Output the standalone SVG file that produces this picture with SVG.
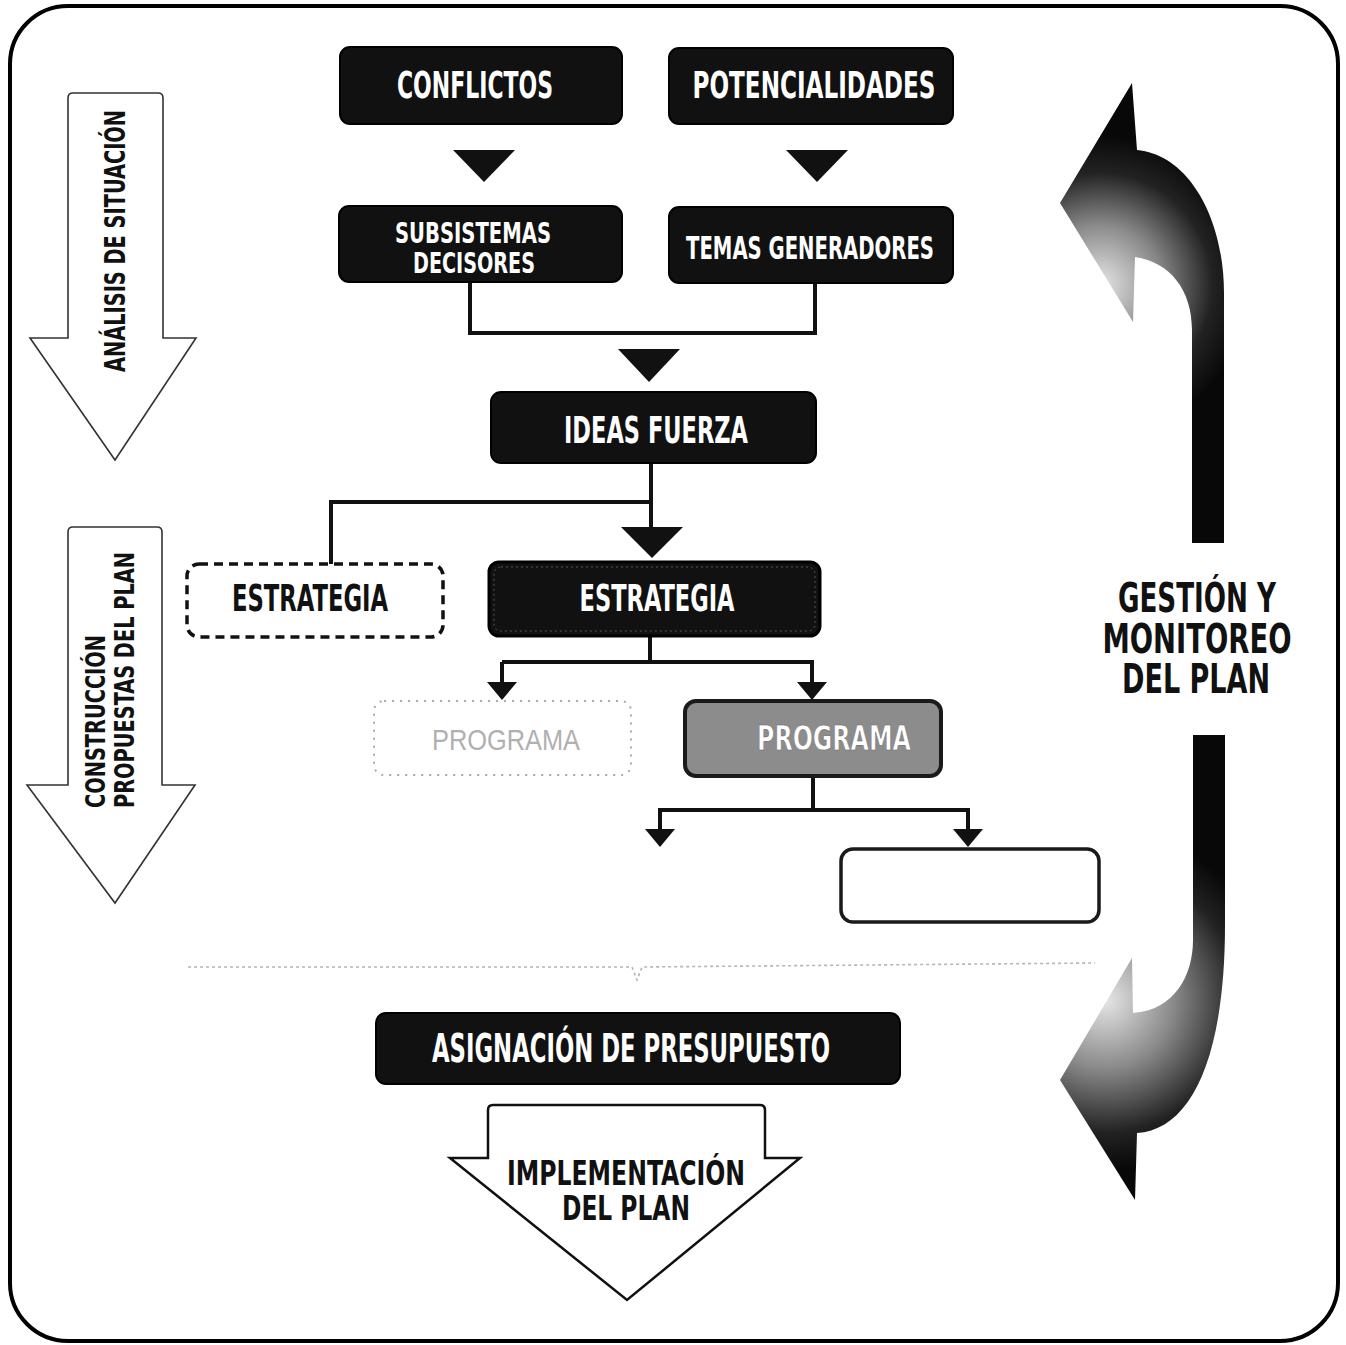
<svg xmlns="http://www.w3.org/2000/svg" width="1346" height="1345" viewBox="0 0 1346 1345">
  <style>
    .t { font-family: "Liberation Sans Narrow","DejaVu Sans Condensed","Liberation Sans",sans-serif; font-weight: bold; }
    .w { fill: #ffffff; }
    .k { fill: #111111; }
    .dark { fill: #111111; stroke: #000; stroke-width: 2; }
    .conn { fill: none; stroke: #111; stroke-width: 4; }
    .tri { fill: #111; }
    .bigarrow { fill: #fff; stroke: #333; stroke-width: 1.6; }
  </style>
  <defs>
    <radialGradient id="gUp" gradientUnits="userSpaceOnUse" cx="1100" cy="285" r="150">
      <stop offset="0" stop-color="#e6e6e6"/>
      <stop offset="0.4" stop-color="#8a8a8a"/>
      <stop offset="0.75" stop-color="#222"/>
      <stop offset="1" stop-color="#080808"/>
    </radialGradient>
    <radialGradient id="gDn" gradientUnits="userSpaceOnUse" cx="1105" cy="1000" r="170">
      <stop offset="0" stop-color="#e6e6e6"/>
      <stop offset="0.4" stop-color="#8a8a8a"/>
      <stop offset="0.78" stop-color="#222"/>
      <stop offset="1" stop-color="#080808"/>
    </radialGradient>
  </defs>

  <rect width="1346" height="1345" fill="#fff"/>
  <!-- outer frame -->
  <rect x="10" y="6" width="1328" height="1335" rx="58" ry="58" fill="none" stroke="#000" stroke-width="4"/>

  <!-- left side big arrows -->
  <g id="analisis">
    <path class="bigarrow" d="M68 98 Q68 93 73 93 L158 93 Q163 93 163 98 L163 338 L196 338 L115 460 L30 338 L68 338 Z"/>
    <text class="t k" font-size="29" transform="translate(125,372) rotate(-90)" textLength="262" lengthAdjust="spacingAndGlyphs">ANÁLISIS DE SITUACIÓN</text>
  </g>
  <g id="construccion">
    <path class="bigarrow" d="M68 532 Q68 527 73 527 L157 527 Q162 527 162 532 L162 785 L195 785 L115 903 L27 785 L68 785 Z"/>
    <text class="t k" font-size="26" transform="translate(105,808) rotate(-90)" textLength="173" lengthAdjust="spacingAndGlyphs">CONSTRUCCIÓN</text>
    <text class="t k" font-size="26" transform="translate(134,808) rotate(-90)" textLength="256" lengthAdjust="spacingAndGlyphs">PROPUESTAS DEL PLAN</text>
  </g>

  <!-- connectors -->
  <g id="connectors">
    <polygon class="tri" points="453,150 515,150 484,182"/>
    <polygon class="tri" points="786,150 848,150 817,182"/>
    <path class="conn" d="M470 282 L470 333 L815 333 L815 283"/>
    <polygon class="tri" points="618,349 680,349 649,382"/>
    <path class="conn" d="M651 463 L651 530"/>
    <path class="conn" d="M651 502 L331 502 L331 565"/>
    <polygon class="tri" points="621,527 683,527 652,558"/>
    <path class="conn" d="M650 636 L650 662"/>
    <path class="conn" d="M502 662 L812 662 L812 682"/>
    <path class="conn" d="M502 662 L502 682"/>
    <polygon class="tri" points="487,682 517,682 502,700"/>
    <polygon class="tri" points="797,682 827,682 812,700"/>
    <path class="conn" d="M813 776 L813 810"/>
    <path class="conn" d="M660 829 L660 810 L968 810 L968 829"/>
    <polygon class="tri" points="645,829 675,829 660,847"/>
    <polygon class="tri" points="953,829 983,829 968,847"/>
  </g>

  <g id="conflictos">
    <rect class="dark" x="340" y="47" width="282" height="77" rx="10"/>
    <text class="t w" font-size="37" x="475" y="98" text-anchor="middle" textLength="156" lengthAdjust="spacingAndGlyphs">CONFLICTOS</text>
  </g>
  <g id="potencialidades">
    <rect class="dark" x="669" y="48" width="284" height="76" rx="10"/>
    <text class="t w" font-size="37" x="814" y="98" text-anchor="middle" textLength="243" lengthAdjust="spacingAndGlyphs">POTENCIALIDADES</text>
  </g>
  <g id="subsistemas">
    <rect class="dark" x="339" y="206" width="283" height="76" rx="10"/>
    <text class="t w" font-size="28" x="473" y="243" text-anchor="middle" textLength="156" lengthAdjust="spacingAndGlyphs">SUBSISTEMAS</text>
    <text class="t w" font-size="28" x="474" y="273" text-anchor="middle" textLength="122" lengthAdjust="spacingAndGlyphs">DECISORES</text>
  </g>
  <g id="temas">
    <rect class="dark" x="669" y="207" width="284" height="76" rx="10"/>
    <text class="t w" font-size="32" x="810" y="259" text-anchor="middle" textLength="248" lengthAdjust="spacingAndGlyphs">TEMAS GENERADORES</text>
  </g>
  <g id="ideas">
    <rect class="dark" x="491" y="392" width="325" height="71" rx="10"/>
    <text class="t w" font-size="37" x="656" y="443" text-anchor="middle" textLength="184" lengthAdjust="spacingAndGlyphs">IDEAS FUERZA</text>
  </g>
  <g id="estrategia-alt">
    <rect x="187" y="564" width="256" height="73" rx="12" fill="#fff" stroke="#111" stroke-width="3.5" stroke-dasharray="9 6"/>
    <text class="t k" font-size="37" x="310" y="611" text-anchor="middle" textLength="156" lengthAdjust="spacingAndGlyphs">ESTRATEGIA</text>
  </g>
  <g id="estrategia">
    <rect x="489" y="562" width="331" height="74" rx="10" fill="#111" stroke="#000" stroke-width="3"/>
    <rect x="494" y="567" width="321" height="64" rx="7" fill="none" stroke="#555" stroke-width="1" stroke-dasharray="2 3"/>
    <text class="t w" font-size="37" x="657" y="611" text-anchor="middle" textLength="155" lengthAdjust="spacingAndGlyphs">ESTRATEGIA</text>
  </g>
  <g id="programa-alt">
    <rect x="374" y="701" width="257" height="74" rx="10" fill="#fff" stroke="#aaa" stroke-width="2" stroke-dasharray="2 6"/>
    <text font-family="'Liberation Sans','DejaVu Sans',sans-serif" font-size="29" fill="#b0b0b0" x="506" y="750" text-anchor="middle" textLength="148" lengthAdjust="spacingAndGlyphs">PROGRAMA</text>
  </g>
  <g id="programa">
    <rect x="685" y="701" width="256" height="75" rx="11" fill="#8c8c8c" stroke="#1a1a1a" stroke-width="4"/>
    <text class="t w" font-size="33" x="834" y="750" text-anchor="middle" textLength="154" lengthAdjust="spacingAndGlyphs" stroke="#666" stroke-width="0.6">PROGRAMA</text>
  </g>
  <g id="empty-box">
    <rect x="841" y="849" width="258" height="73" rx="12" fill="#fff" stroke="#1a1a1a" stroke-width="3.5"/>
  </g>

  <!-- faint divider -->
  <g id="divider">
    <path d="M188 967 L632 967 L637 980 L642 967 L1095 963" fill="none" stroke="#b5b5b5" stroke-width="1.6" stroke-dasharray="3 3"/>
  </g>

  <g id="asignacion">
    <rect class="dark" x="376" y="1013" width="524" height="71" rx="10"/>
    <text class="t w" font-size="39" x="631" y="1062" text-anchor="middle" textLength="398" lengthAdjust="spacingAndGlyphs">ASIGNACIÓN DE PRESUPUESTO</text>
  </g>
  <g id="implementacion">
    <path d="M488 1110 Q488 1105 493 1105 L760 1105 Q765 1105 765 1110 L765 1158 L800 1158 L627 1300 L450 1158 L488 1158 Z" fill="#fff" stroke="#111" stroke-width="2.5"/>
    <text class="t k" font-size="34" x="626" y="1185" text-anchor="middle" textLength="238" lengthAdjust="spacingAndGlyphs">IMPLEMENTACIÓN</text>
    <text class="t k" font-size="34" x="626" y="1220" text-anchor="middle" textLength="128" lengthAdjust="spacingAndGlyphs">DEL PLAN</text>
  </g>

  <g id="gestion">
    <path d="M1192 543 L1192 330 C1192 290 1170 262 1135 257 L1133 322 L1060 203 L1132 83 L1137 150 C1190 155 1224 220 1224 293 L1224 543 Z" fill="url(#gUp)"/>
    <path d="M1193 735 L1225 735 L1225 925 C1225 1060 1190 1130 1137 1133 L1135 1200 L1060 1080 L1132 958 L1133 1013 C1175 1010 1193 975 1193 940 Z" fill="url(#gDn)"/>
    <text class="t k" font-size="40" x="1197" y="612" text-anchor="middle" textLength="158" lengthAdjust="spacingAndGlyphs">GESTIÓN Y</text>
    <text class="t k" font-size="40" x="1197" y="653" text-anchor="middle" textLength="189" lengthAdjust="spacingAndGlyphs">MONITOREO</text>
    <text class="t k" font-size="40" x="1196" y="693" text-anchor="middle" textLength="148" lengthAdjust="spacingAndGlyphs">DEL PLAN</text>
  </g>
</svg>
